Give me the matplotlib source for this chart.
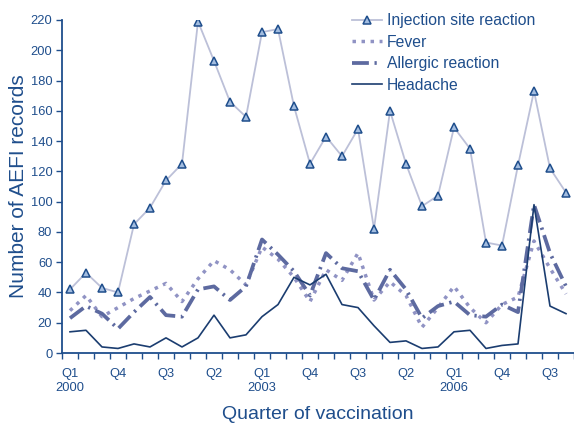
import matplotlib
matplotlib.use("Agg")
import matplotlib.pyplot as plt
import numpy as np

plt.rcParams['font.family'] = ['Liberation Sans', 'DejaVu Sans']

quarters = [f"Q{q}" for y in range(2000, 2008) for q in range(1, 5)]
years = [str(y) for y in range(2000, 2008) for q in range(1, 5)]

injection = [42, 53, 43, 40, 85, 96, 114, 125, 219, 193, 166, 156, 212, 214, 163, 125,
             143, 130, 148, 82, 160, 125, 97, 104, 149, 135, 73, 71, 124, 173, 122, 106]
fever = [28, 38, 24, 30, 36, 41, 46, 34, 49, 61, 55, 45, 70, 62, 50, 34,
         55, 48, 66, 35, 47, 38, 17, 30, 44, 30, 20, 32, 37, 74, 56, 39]
allergic = [23, 31, 26, 16, 27, 37, 25, 24, 42, 44, 35, 44, 75, 65, 54, 38,
            66, 56, 54, 35, 55, 42, 23, 31, 34, 25, 24, 32, 27, 98, 66, 44]
headache = [14, 15, 4, 3, 6, 4, 10, 4, 10, 25, 10, 12, 24, 32, 50, 45,
            52, 32, 30, 18, 7, 8, 3, 4, 14, 15, 3, 5, 6, 98, 31, 26]

yticks = list(range(0, 221, 20))

navy = '#1f4e8c'
dark = '#1b3d70'

fig = plt.figure(figsize=(5.74, 4.26), dpi=100)
ax = fig.add_axes([62/574, 73/426, 512/574, 333/426])

x = np.arange(len(injection))
ax.plot(x, injection, color='#bcc0d8', lw=1.3, marker='^', ms=6,
        mfc='#a3bde0', mec=navy, mew=1.1, label='Injection site reaction', zorder=3)
ax.plot(x, fever, color='#9093c4', lw=2.5, linestyle=(0, (1, 1.6)),
        dash_capstyle='butt', label='Fever', zorder=2)
ax.plot(x, allergic, color='#5d6aa0', lw=2.7, linestyle=(0, (4.5, 1.5, 0.6, 1.5)),
        dash_capstyle='butt', label='Allergic reaction', zorder=2)
ax.plot(x, headache, color=dark, lw=1.2, label='Headache', zorder=4)

ax.set_xlim(-0.5, 31.4)
ax.set_ylim(0, 220)
ax.set_yticks(yticks)
ax.set_yticklabels([str(v) for v in yticks])

ticklab_idx = list(range(0, len(quarters), 3))
labels = []
for i in ticklab_idx:
    if quarters[i] == 'Q1':
        labels.append(f"{quarters[i]}\n{years[i]}")
    else:
        labels.append(quarters[i])
ax.set_xticks(ticklab_idx)
ax.set_xticklabels(labels, linespacing=1.15)
ax.set_xticks(np.arange(-0.5, 32, 1), minor=True)

for s in ['top', 'right']:
    ax.spines[s].set_visible(False)
for s in ['left', 'bottom']:
    ax.spines[s].set_color(navy)
    ax.spines[s].set_linewidth(1.3)

ax.tick_params(axis='x', which='major', length=0, pad=11, labelsize=9.3, labelcolor=navy)
ax.tick_params(axis='x', which='minor', length=4, width=1, color=navy, direction='out')
ax.tick_params(axis='y', which='major', length=4, width=1, color=navy, labelsize=9.3,
               labelcolor=navy, pad=3)

ax.set_ylabel('Number of AEFI records', fontsize=15, color=navy, labelpad=2)
ax.set_xlabel('Quarter of vaccination', fontsize=14, color=navy, labelpad=9)

leg = fig.legend(loc='upper left', bbox_to_anchor=(352/574, 1 - 13/426), frameon=False,
                 fontsize=11.3, handlelength=1.9, handletextpad=0.3, labelspacing=0.42,
                 borderpad=0, borderaxespad=0)
for t in leg.get_texts():
    t.set_color(navy)

fig.savefig('out.png', dpi=100)
